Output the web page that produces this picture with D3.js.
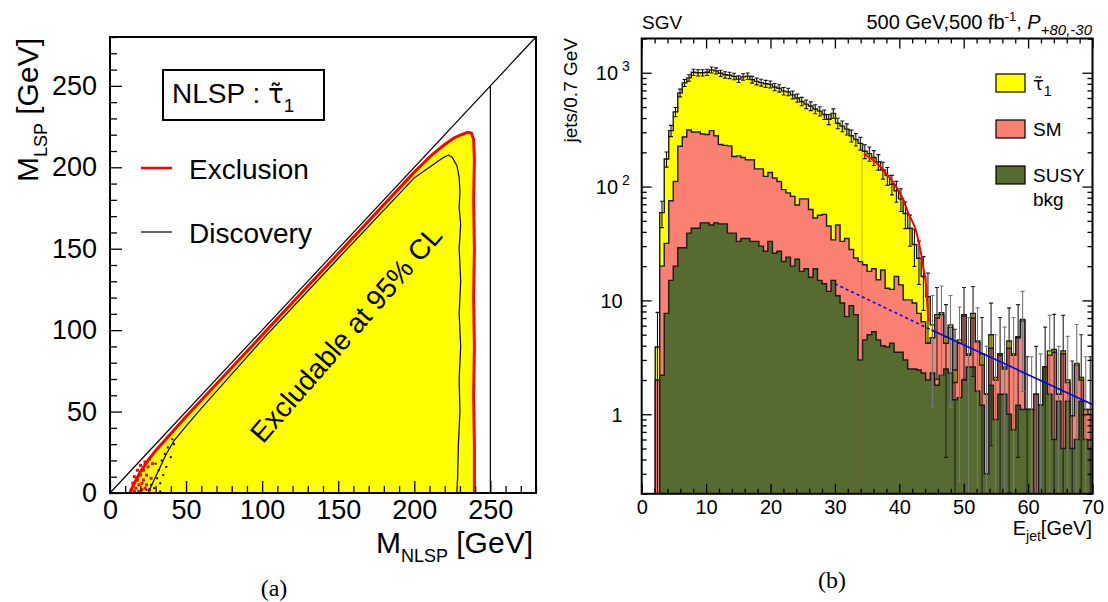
<!DOCTYPE html>
<html>
<head>
<meta charset="utf-8">
<script src="https://cdn.jsdelivr.net/npm/d3@7"></script>
<style>
  body { margin: 0; background: #fff; }
  svg { font-family: "Liberation Sans", Arial, Helvetica, sans-serif; }
</style>
</head>
<body>
<div id="chart"></div>
<script>
// ---------- panel (a): M_NLSP vs M_LSP scan ----------
var massTicks = [0, 50, 100, 150, 200, 250];
var kinematicLimit = 250;   // sqrt(s)/2 line
var exclusionContour = [[13,0],[16,6],[20,13],[25,20],[30,26],[50,47],[100,97],[150,147],[200,197],
    [212,208],[220,214],[226,218],[231,220],[235,221.5],[237.5,221],[239,217],[239.5,205],[239,180],
    [239.5,150],[239,120],[239.5,90],[239,60],[239.5,30],[239.5,0]];
var discoveryContour = [[25,0],[29,8],[33,16],[37,24],[42,32],[50,41],[60,52],[100,94],[150,144],[200,193.5],
    [210,200],[216,204],[220,206.5],[222.5,207.5],[225,206],[228,201],[229.5,194],[230,185],[229.5,175],
    [230.5,165],[229.5,150],[230.5,130],[229.5,110],[230.5,90],[229.5,70],[230,50],[229,30],[228.5,10],[228,0]];
var exclusionDots = [[14,2],[15,6],[16,10],[17,3],[18,8],[18,14],[19,5],[20,11],[20,17],[21,2],[22,8],
    [22,14],[23,19],[24,5],[24,11],[25,16],[26,21],[26,2],[27,9],[28,18],[16,1],[19,1],[21,6],[23,3]];
var discoveryDots = [[24,2],[27,5],[29,3],[31,9],[32,14],[33,6],[34,20],[35,11],[36,24],[37,16],[38,28],
    [40,22],[41,33],[33,1],[30,18],[42,30]];

// ---------- panel (b): jet energy spectrum, 0.7 GeV bins from 0 ----------
var binWidth = 0.7;
var susyBkg = [0,0,0,0,2.2,7.7,15,20,29,29, 39,43,43,48,48,46,48,47,47,39,
    39,33,35,35,33,33,30,27,33,26, 27,22,24,20,23,18,19,16,19,15,
    14,12,15,11,9.5,7.2,9,7.5,3,4.5, 5,5.3,4.5,4.0,3.9,4.2,3.5,3.5,3.0,2.5,
    2.5,2.45,2.3,2.0,2.3,1.8,2.2,2.5,2.3,1.34, 1.4,2.0,2.6,2.6,1.6,1.2,0.3,1.8,0.9,1.5,
    1.5,1.0,0.73,1.2,1.1,1.1,1.1,0,1.2,2.6, 1.5,0.6,1.3,0.5,1.3,0.5,0.6,1.3,0.6,0.5];
var smBkg = [0,0,0,2.0,17.8,24,60,91,197,244, 275,259,259,242,239,264,232,187,183,189,
    145,153,145,137,139,110,113,96,100,93, 84,72,64,62,46,60,59,47,34,41,
    43,33,19,35,23.5,27.8,19,16.1,18.9,16.1, 13,13.7,10.7,14.5,8.9,8.3,12.7,10.2,7.1,7.6,
    7.0,5.25,4.2,2.2,2.4,5.2,5.3,1.7,3.5,0.56, 2.8,5.3,0.7,4.4,2.7,1.5,1.2,2.0,1.1,1.8,
    1.0,2.8,2.57,3.5,5.5,0,0,1.5,0,0, 1.8,2.9,0.2,2.9,0.6,0.47,2.1,0.7,0.5,0.5];
var stauSignal = [0,0,0,1.9,39,143,235,342,440,542, 588,707,698,710,723,750,760,756,730,722,
    746,694,740,763,698,697,677,677,657,631, 619,596,592,558,531,482,452,447,427,404,
    373,345,406,314,307,285,252,236,218,184, 177,161,150,121.5,112,92.5,75.8,64.3,47.9,32.9,
    21.5,15.8,9.7,6.6,1.4,0.5,0.3,0.6,0.3,0.55, 0.3,0.2,0.1,0.7,0.1,0.7,0,1.2,0.1,0.1,
    0.1,0.6,0.1,0.1,0.2,0,0,0,0,0, 0.3,0.2,0,0.2,0.1,0,0.1,0.1,0,0.1];
var eventWeight = 4;   // weighted events -> error = sqrt(w*N)
var endpointFit = [[34.5,195],[37,151],[38,130],[39,110],[40,90],[40.6,77],[41.4,58.6],[42.7,39],
    [43.7,20],[44.25,11.6],[44.5,6.5]];
var bkgFitDotted = [[30,14.0],[45,5.5]];
var bkgFitSolid = [[45,5.5],[70,1.22]];
var markerEnergy = 34.2;
var jetTicks = [0, 10, 20, 30, 40, 50, 60, 70];
var decadeTicks = [1, 10, 100, 1000];
var legendItems = [
    {key: "stau", label: "\u03c4\u0303", color: "#ffff00"},
    {key: "sm", label: "SM", color: "#fa8072"},
    {key: "susy", label: "SUSY", color: "#556b2f"}];

var svg = d3.select("#chart").append("svg")
    .attr("width", 1108)
    .attr("height", 602);

function styleAxis(g, size) {
    g.attr("font-family", null).attr("font-size", null);
    g.select(".domain").remove();
    g.selectAll(".tick line").attr("stroke", "#000").attr("stroke-width", 1.3);
    g.selectAll(".tick text").attr("fill", "#000").attr("font-size", size);
}

function scanPlot_func() {
    var left = 110, right = 536, top = 37, bottom = 493;
    var x = d3.scaleLinear().domain([0, 280]).range([left, right]);
    var y = d3.scaleLinear().domain([0, 280]).range([bottom, top]);
    var line = d3.line().x(function(d) { return x(d[0]); }).y(function(d) { return y(d[1]); });

    var g = svg.append("g");

    g.append("path")
        .attr("d", line(exclusionContour) + "Z")
        .attr("fill", "#ffff00");

    g.selectAll(".exdot").data(exclusionDots).enter().append("rect")
        .attr("x", function(d) { return x(d[0]) - 1.5; })
        .attr("y", function(d) { return y(d[1]) - 1.5; })
        .attr("width", 3).attr("height", 3)
        .attr("fill", "#ff0000");
    g.selectAll(".disdot").data(discoveryDots).enter().append("rect")
        .attr("x", function(d) { return x(d[0]) - 1; })
        .attr("y", function(d) { return y(d[1]) - 1; })
        .attr("width", 2).attr("height", 2)
        .attr("fill", "#000");

    g.append("path")
        .attr("d", line(exclusionContour))
        .attr("fill", "none").attr("stroke", "#ff0000").attr("stroke-width", 3);
    g.append("path")
        .attr("d", line(discoveryContour))
        .attr("fill", "none").attr("stroke", "#000").attr("stroke-width", 1.2);

    // M_LSP = M_NLSP line and kinematic limit
    g.append("line")
        .attr("x1", x(0)).attr("y1", y(0)).attr("x2", x(280)).attr("y2", y(280))
        .attr("stroke", "#000").attr("stroke-width", 1.2);
    g.append("line")
        .attr("x1", x(kinematicLimit)).attr("y1", y(0))
        .attr("x2", x(kinematicLimit)).attr("y2", y(kinematicLimit))
        .attr("stroke", "#000").attr("stroke-width", 1.2);

    g.append("text")
        .attr("transform", "translate(346,334) rotate(-49)")
        .attr("text-anchor", "middle")
        .attr("dy", "0.35em")
        .attr("font-size", 28)
        .text("Excludable at 95% CL");

    // minor + major ticks, inward
    var minor = d3.range(0, 281, 10).filter(function(v) { return v % 50 !== 0; });
    var gx = g.append("g").attr("transform", "translate(0," + bottom + ")")
        .call(d3.axisBottom(x).tickValues(minor).tickSize(-7).tickFormat(""));
    styleAxis(gx, 27);
    gx = g.append("g").attr("transform", "translate(0," + bottom + ")")
        .call(d3.axisBottom(x).tickValues(massTicks).tickSize(-12).tickPadding(7));
    styleAxis(gx, 27);
    var gy = g.append("g").attr("transform", "translate(" + left + ",0)")
        .call(d3.axisLeft(y).tickValues(minor).tickSize(-7).tickFormat(""));
    styleAxis(gy, 27);
    gy = g.append("g").attr("transform", "translate(" + left + ",0)")
        .call(d3.axisLeft(y).tickValues(massTicks).tickSize(-12).tickPadding(13));
    styleAxis(gy, 27);

    g.append("rect")
        .attr("x", left).attr("y", top).attr("width", right - left).attr("height", bottom - top)
        .attr("fill", "none").attr("stroke", "#000").attr("stroke-width", 2);

    // axis titles
    var xt = g.append("text").attr("x", 533).attr("y", 553)
        .attr("text-anchor", "end").attr("font-size", 30);
    xt.append("tspan").text("M");
    xt.append("tspan").attr("font-size", 18).attr("dy", 9).text("NLSP");
    xt.append("tspan").attr("dy", -9).text(" [GeV]");

    var yt = g.append("text").attr("transform", "translate(38,38) rotate(-90)")
        .attr("text-anchor", "end").attr("font-size", 30);
    yt.append("tspan").text("M");
    yt.append("tspan").attr("font-size", 18).attr("dy", 9).text("LSP");
    yt.append("tspan").attr("dy", -9).text(" [GeV]");

    // legend
    g.append("rect").attr("x", 163).attr("y", 70).attr("width", 161).attr("height", 50)
        .attr("fill", "#fff").attr("stroke", "#000").attr("stroke-width", 2);
    var lt = g.append("text").attr("x", 172).attr("y", 103).attr("font-size", 28);
    lt.append("tspan").text("NLSP : ");
    lt.append("tspan").attr("font-family", "'DejaVu Sans', sans-serif").attr("font-size", 26)
        .text("\u03c4\u0303");
    lt.append("tspan").attr("font-size", 19).attr("dy", 9).text("1");

    g.append("line").attr("x1", 141).attr("x2", 172).attr("y1", 168).attr("y2", 168)
        .attr("stroke", "#ff0000").attr("stroke-width", 2.5);
    g.append("text").attr("x", 189).attr("y", 179).attr("font-size", 28).text("Exclusion");
    g.append("line").attr("x1", 141).attr("x2", 172).attr("y1", 232).attr("y2", 232)
        .attr("stroke", "#000").attr("stroke-width", 1.2);
    g.append("text").attr("x", 189).attr("y", 243).attr("font-size", 28).text("Discovery");

    g.append("text").attr("x", 274).attr("y", 596).attr("text-anchor", "middle")
        .attr("font-family", "'Liberation Serif', 'DejaVu Serif', serif").attr("font-size", 24)
        .text("(a)");
}

function jetSpectrum_func() {
    var left = 641.7, right = 1092.5, top = 38.5, bottom = 493.8;
    var x = d3.scaleLinear().domain([0, 70]).range([left, right]);
    var y = d3.scaleLog().domain([0.2, 2000]).range([bottom, top]).clamp(true);
    var yv = function(v) { return y(Math.max(v, 0.1)); };

    var rows = susyBkg.map(function(d, i) {
        return {lo: i * binWidth, hi: (i + 1) * binWidth, susy: d, sm: smBkg[i], stau: stauSignal[i]};
    });
    var series = d3.stack().keys(["susy", "sm", "stau"])(rows);
    var fills = {susy: "#556b2f", sm: "#fa8072", stau: "#ffff00"};

    svg.append("clipPath").attr("id", "clipB").append("rect")
        .attr("x", left).attr("y", top).attr("width", right - left).attr("height", bottom - top);
    var g = svg.append("g").attr("clip-path", "url(#clipB)");

    var area = d3.area().x(function(d) { return x(d[0]); }).y0(bottom).y1(function(d) { return yv(d[1]); });
    var step = d3.line().x(function(d) { return x(d[0]); }).y(function(d) { return yv(d[1]); });

    // cumulative histograms, total first (ROOT THStack style)
    series.slice().reverse().forEach(function(s) {
        var pts = [];
        s.forEach(function(b, i) { pts.push([rows[i].lo, b[1]], [rows[i].hi, b[1]]); });
        g.append("path").attr("d", area(pts)).attr("fill", fills[s.key]);
        g.append("path").attr("d", step(pts)).attr("fill", "none")
            .attr("stroke", "#1a1a1a").attr("stroke-width", 1.4);
    });

    var totals = series[2].map(function(b) { return b[1]; });

    // faint marker line
    var mi = Math.floor(markerEnergy / binWidth);
    g.append("line").attr("x1", x(markerEnergy)).attr("x2", x(markerEnergy))
        .attr("y1", yv(totals[mi])).attr("y2", bottom)
        .attr("stroke", "#a0522d").attr("stroke-opacity", 0.45).attr("stroke-width", 1);

    // error bars on the stacked total
    var eb = g.append("g");
    totals.forEach(function(t, i) {
        if (t <= 0) return;
        var err = Math.sqrt(eventWeight * t);
        var xc = x(rows[i].lo + binWidth / 2);
        var col = i < 63 ? "#111" : (i % 2 ? "#222" : "#777");
        eb.append("line").attr("x1", xc).attr("x2", xc)
            .attr("y1", yv(t - err)).attr("y2", yv(t + err))
            .attr("stroke", col).attr("stroke-width", 1.1);
        [t - err, t + err].forEach(function(v) {
            if (v <= 0.2) return;
            eb.append("line").attr("x1", xc - 2).attr("x2", xc + 2)
                .attr("y1", yv(v)).attr("y2", yv(v))
                .attr("stroke", col).attr("stroke-width", 1.1);
        });
    });

    // fits
    var fitLine = d3.line().x(function(d) { return x(d[0]); }).y(function(d) { return y(d[1]); });
    g.append("path").attr("d", fitLine.curve(d3.curveMonotoneX)(endpointFit))
        .attr("fill", "none").attr("stroke", "#ff0000").attr("stroke-width", 2);
    fitLine.curve(d3.curveLinear);
    g.append("path").attr("d", fitLine(bkgFitDotted))
        .attr("fill", "none").attr("stroke", "#0000ff").attr("stroke-width", 1.6)
        .attr("stroke-dasharray", "3,3");
    g.append("path").attr("d", fitLine(bkgFitSolid))
        .attr("fill", "none").attr("stroke", "#0000ff").attr("stroke-width", 1.6);

    // axes, ticks pointing inward on all four sides
    var minorX = d3.range(0, 71, 2).filter(function(v) { return v % 10 !== 0; });
    var minorY = [];
    [0.1, 1, 10, 100, 1000].forEach(function(dec) {
        d3.range(2, 10).forEach(function(m) {
            var v = m * dec;
            if (v >= 0.2 && v <= 2000) minorY.push(v);
        });
    });

    var ax = svg.append("g");
    var gb = ax.append("g").attr("transform", "translate(0," + bottom + ")")
        .call(d3.axisBottom(x).tickValues(minorX).tickSize(-5).tickFormat(""));
    styleAxis(gb, 20);
    gb = ax.append("g").attr("transform", "translate(0," + bottom + ")")
        .call(d3.axisBottom(x).tickValues(jetTicks).tickSize(-10).tickPadding(6));
    styleAxis(gb, 20);
    var gt = ax.append("g").attr("transform", "translate(0," + top + ")")
        .call(d3.axisTop(x).tickValues(minorX).tickSize(-5).tickFormat(""));
    styleAxis(gt, 20);
    gt = ax.append("g").attr("transform", "translate(0," + top + ")")
        .call(d3.axisTop(x).tickValues(jetTicks).tickSize(-10).tickFormat(""));
    styleAxis(gt, 20);

    var gl = ax.append("g").attr("transform", "translate(" + left + ",0)")
        .call(d3.axisLeft(y).tickValues(minorY).tickSize(-5).tickFormat(""));
    styleAxis(gl, 20);
    gl = ax.append("g").attr("transform", "translate(" + left + ",0)")
        .call(d3.axisLeft(y).tickValues(decadeTicks).tickSize(-10).tickFormat(""));
    styleAxis(gl, 20);
    gl.selectAll(".tick").each(function(d) {
        var t = d3.select(this).append("text")
            .attr("fill", "#000").attr("font-size", 20).attr("dy", "0.35em").attr("text-anchor", "end");
        if (d < 100) {
            t.attr("x", -19).text(d);
        } else {
            t.attr("x", -12).text("10");
            t.append("tspan").attr("font-size", 14).attr("dy", -9).text(" " + Math.round(Math.log10(d)));
        }
    });
    var gr = ax.append("g").attr("transform", "translate(" + right + ",0)")
        .call(d3.axisRight(y).tickValues(minorY).tickSize(-5).tickFormat(""));
    styleAxis(gr, 20);
    gr = ax.append("g").attr("transform", "translate(" + right + ",0)")
        .call(d3.axisRight(y).tickValues(decadeTicks).tickSize(-10).tickFormat(""));
    styleAxis(gr, 20);

    ax.append("rect")
        .attr("x", left).attr("y", top).attr("width", right - left).attr("height", bottom - top)
        .attr("fill", "none").attr("stroke", "#000").attr("stroke-width", 2);

    // titles
    var xt = ax.append("text").attr("x", 1092).attr("y", 535)
        .attr("text-anchor", "end").attr("font-size", 20);
    xt.append("tspan").text("E");
    xt.append("tspan").attr("font-size", 14).attr("dy", 6).text("jet");
    xt.append("tspan").attr("dy", -6).text("[GeV]");

    ax.append("text").attr("transform", "translate(577,38) rotate(-90)")
        .attr("text-anchor", "end").attr("font-size", 19).text("jets/0.7 GeV");

    ax.append("text").attr("x", 642).attr("y", 29).attr("font-size", 19).text("SGV");
    var hd = ax.append("text").attr("x", 1092).attr("y", 29)
        .attr("text-anchor", "end").attr("font-size", 20);
    hd.append("tspan").text("500 GeV,500 fb");
    hd.append("tspan").attr("font-size", 13).attr("dy", -8).text("-1");
    hd.append("tspan").attr("dy", 8).text(", ");
    hd.append("tspan").attr("font-style", "italic").text("P");
    hd.append("tspan").attr("font-style", "italic").attr("font-size", 15).attr("dy", 6).text("+80,-30");

    // legend
    var lg = ax.selectAll(".leg").data(legendItems).enter().append("g")
        .attr("transform", function(d, i) { return "translate(996," + (74 + i * 46) + ")"; });
    lg.append("rect").attr("width", 29).attr("height", 18)
        .attr("fill", function(d) { return d.color; })
        .attr("stroke", "#000").attr("stroke-width", 1.2);
    lg.each(function(d) {
        var t = d3.select(this).append("text").attr("x", 37).attr("y", 16).attr("font-size", 19);
        if (d.key === "stau") {
            t.append("tspan").attr("font-family", "'DejaVu Sans', sans-serif").attr("font-size", 18)
                .text(d.label);
            t.append("tspan").attr("font-size", 14).attr("dy", 6).text("1");
        } else {
            t.append("tspan").text(d.label);
        }
        if (d.key === "susy") {
            d3.select(this).append("text").attr("x", 37).attr("y", 40).attr("font-size", 19).text("bkg");
        }
    });

    ax.append("text").attr("x", 832).attr("y", 588).attr("text-anchor", "middle")
        .attr("font-family", "'Liberation Serif', 'DejaVu Serif', serif").attr("font-size", 24)
        .text("(b)");
}

scanPlot_func();
jetSpectrum_func();
</script>
</body>
</html>
